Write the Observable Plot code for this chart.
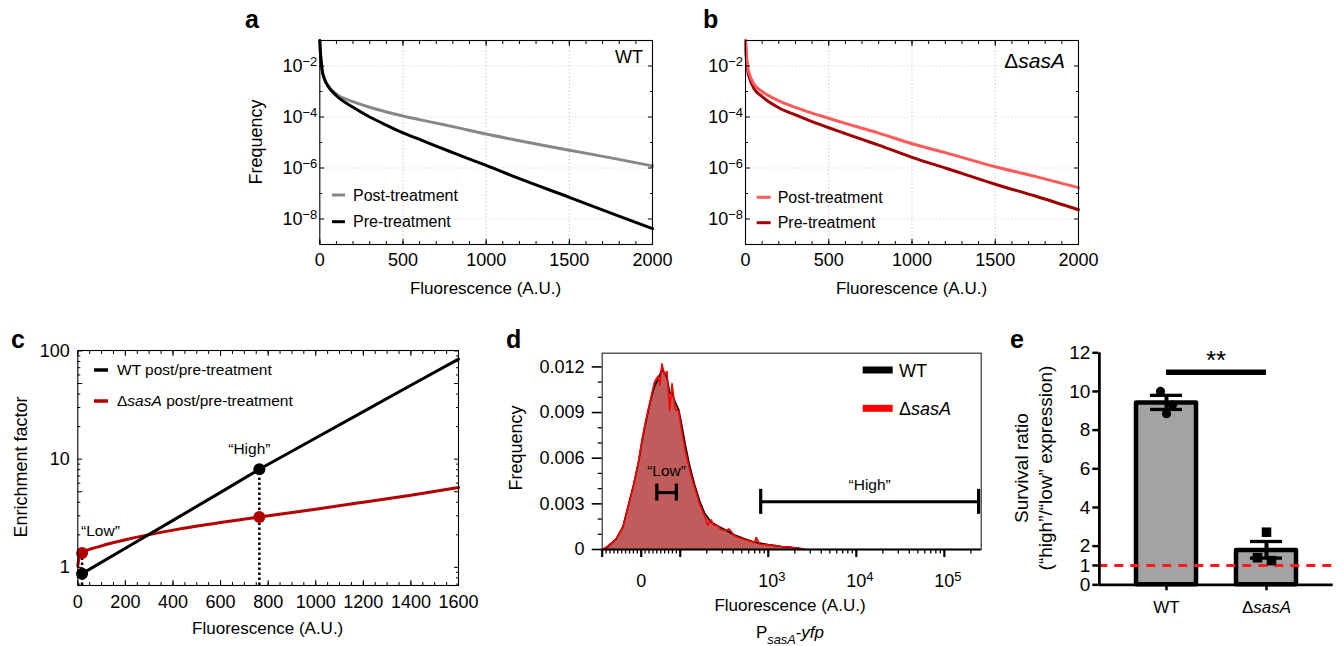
<!DOCTYPE html>
<html><head><meta charset="utf-8">
<script src="https://cdn.jsdelivr.net/npm/d3@7"></script>
<script src="https://cdn.jsdelivr.net/npm/@observablehq/plot@0.6"></script>
<style>
body{margin:0;background:#fff;}
#root{position:relative;width:1340px;height:646px;overflow:hidden;font-family:"Liberation Sans",Arial,Helvetica,sans-serif;}
</style></head><body><div id="root"></div>
<script>
// ================= DATA =================
// Panels a, b : frequency distributions vs fluorescence (A.U.)
const fluorAB = [0, 3, 8, 15, 25, 50, 100, 200, 300, 400, 500, 600, 700, 800, 1000, 1200, 1500, 1750, 2000];
const wtPost  = [1.0e-1, 4.0e-2, 1.6e-2, 6.3e-3, 3.5e-3, 1.66e-3, 7.9e-4, 4.0e-4, 2.4e-4, 1.58e-4, 1.1e-4, 7.9e-5, 5.75e-5, 4.2e-5, 2.14e-5, 1.17e-5, 5.0e-6, 2.5e-6, 1.2e-6];
const wtPre   = [1.0e-1, 4.0e-2, 1.6e-2, 6.3e-3, 3.5e-3, 1.6e-3, 6.8e-4, 2.4e-4, 1.0e-4, 4.8e-5, 2.4e-5, 1.32e-5, 7.2e-6, 4.0e-6, 1.26e-6, 3.8e-7, 7.1e-8, 1.7e-8, 4.2e-9];
const sasPost = [1.0e-1, 4.5e-2, 1.8e-2, 7.9e-3, 4.5e-3, 2.0e-3, 1.0e-3, 4.3e-4, 2.4e-4, 1.41e-4, 8.9e-5, 5.6e-5, 3.6e-5, 2.34e-5, 8.9e-6, 4.0e-6, 1.12e-6, 4.5e-7, 1.7e-7];
const sasPre  = [1.0e-1, 3.5e-2, 1.26e-2, 5.6e-3, 3.2e-3, 1.35e-3, 6.3e-4, 2.3e-4, 1.2e-4, 6.6e-5, 3.8e-5, 2.24e-5, 1.32e-5, 7.9e-6, 2.6e-6, 1.0e-6, 2.3e-7, 7.6e-8, 2.3e-8];
const ticksAB = [0, 500, 1000, 1500, 2000];
const decadesMajorAB = [1e-2, 1e-4, 1e-6, 1e-8];
const decadesMinorAB = [1e-3, 1e-5, 1e-7];

// Panel c : enrichment factor
const wtEnrichX  = [18, 200, 400, 600, 763, 1000, 1200, 1400, 1600];
const wtEnrichY  = [0.875, 1.50, 2.72, 4.93, 8.07, 15.7, 27.5, 48.2, 84];
const sasEnrichX = [0, 6, 18, 100, 200, 400, 600, 763, 1000, 1200, 1400, 1600];
const sasEnrichY = [1.03, 1.25, 1.36, 1.58, 1.8, 2.21, 2.6, 2.92, 3.45, 4.0, 4.65, 5.47];
const gateNames  = ["“Low”", "“High”"];
const gateX      = [18, 763];
const wtGateY    = [0.875, 8.07];
const sasGateY   = [1.36, 2.92];
const ticksCX = [0, 200, 400, 600, 800, 1000, 1200, 1400, 1600];
const ticksCY = [1, 5, 10, 50, 100];

// Panel d : P_sasA-yfp histograms
const histWtX  = [-98, -85, -64, -47, -34, -21, -8, 0, 8, 17, 26, 34, 43, 53, 60, 66, 73, 79, 87, 96, 104, 114, 128, 145, 166, 189, 225, 268, 333, 414, 537, 698, 992, 1407, 1990, 2580];
const histWtY  = [0, 0.0002, 0.0007, 0.0015, 0.0028, 0.0041, 0.0056, 0.0068, 0.0079, 0.0090, 0.0100, 0.0107, 0.0112, 0.0118, 0.0116, 0.0113, 0.0103, 0.0103, 0.0097, 0.0092, 0.0082, 0.0069, 0.0055, 0.0043, 0.0032, 0.0024, 0.0018, 0.00155, 0.00125, 0.00095, 0.0007, 0.00048, 0.00032, 0.0002, 0.00012, 0];
const histSasX = [-98, -85, -64, -47, -34, -21, -8, 0, 8, 17, 26, 34, 43, 48, 53, 60, 66, 73, 79, 87, 96, 104, 114, 128, 145, 166, 189, 205, 225, 240, 268, 290, 333, 360, 414, 460, 537, 600, 698, 730, 800, 992, 1200, 1407, 1700, 1990, 2300, 2580];
const histSasY = [0, 0.00024, 0.00068, 0.00144, 0.00276, 0.00407, 0.0056, 0.0069, 0.0080, 0.0091, 0.0101, 0.0110, 0.0114, 0.0108, 0.0122, 0.0115, 0.0117, 0.0091, 0.0109, 0.0092, 0.0091, 0.0078, 0.0065, 0.0052, 0.0041, 0.0030, 0.0022, 0.0016, 0.00195, 0.0016, 0.00156, 0.0013, 0.00125, 0.00135, 0.0009, 0.00078, 0.00066, 0.00058, 0.00046, 0.00079, 0.00035, 0.00031, 0.00026, 0.0002, 0.00018, 0.00012, 0.00008, 0];
const gateLo    = [40, 820];
const gateHi    = [90, 245000];
const gateLevel = [0.00374, 0.00313];
const ticksDY = [0, 0.003, 0.006, 0.009, 0.012];
const minorDY = [0.001, 0.002, 0.004, 0.005, 0.007, 0.008, 0.010, 0.011];
const labelTicksD = [0, 1000, 10000, 100000];
const labelTextD  = ["0", "10^3", "10^4", "10^5"];
const majorTicksD = [-100, 0, 100, 1000, 10000, 100000];

// Panel e : survival ratio
const strains = ["WT", "ΔsasA"];
const survivalMean = [9.4, 1.77];
const survivalLo   = [9.07, 1.38];
const survivalHi   = [9.8, 2.24];
const wtReplicates  = [10.0, 8.85, 9.3];
const sasReplicates = [2.72, 1.4, 1.25];
const sigLevel = 11;
const ticksEY = [0, 1, 2, 4, 6, 8, 10, 12];

// ================= HELPERS =================
const FONT = '"Liberation Sans", Arial, Helvetica, sans-serif';
const NS = "http://www.w3.org/2000/svg";
const root = document.getElementById("root");
const blank = () => "";
const plain = d => String(d);

function mk(opts, left, top) {
  const svg = Plot.plot({...opts, style: {background: "transparent", overflow: "visible", fontFamily: FONT, color: "black"}});
  svg.style.position = "absolute";
  svg.style.left = left + "px";
  svg.style.top = top + "px";
  root.appendChild(svg);
  return svg;
}
function richTicks(svg, shift = false) {
  svg.querySelectorAll("text").forEach(t => {
    const s = t.textContent;
    const m = s.match(/^10\^(.+)$/);
    if (m) {
      t.textContent = "10";
      const sup = document.createElementNS(NS, "tspan");
      sup.setAttribute("dy", "-0.48em");
      sup.setAttribute("font-size", "0.72em");
      sup.textContent = m[1];
      t.appendChild(sup);
      if (shift) t.setAttribute("dx", "0.2em");
    } else if (s === "ΔsasA") {
      t.textContent = "Δ";
      const it = document.createElementNS(NS, "tspan");
      it.setAttribute("font-style", "italic");
      it.textContent = "sasA";
      t.appendChild(it);
    }
  });
}
const supFmt = d => "10^−" + Math.round(-Math.log10(d));

// ================= PANELS a, b =================
function panelAB(post, pre, postColor, preColor, left, mL, mR, postOnTop) {
  const data = fluorAB.map((x, i) => ({x, post: post[i], pre: pre[i]}));
  const minor = d3.range(0, 2001, 100);
  const lPost = Plot.line(data, {x: "x", y: "post", stroke: postColor, strokeWidth: 3, curve: "monotone-x"});
  const lPre = Plot.line(data, {x: "x", y: "pre", stroke: preColor, strokeWidth: 3, curve: "monotone-x"});
  const svg = mk({
    width: 455, height: 310,
    marginLeft: mL, marginRight: mR, marginTop: 40, marginBottom: 66,
    x: {domain: [0, 2000], label: null},
    y: {type: "log", domain: [1e-9, 1e-1], label: null},
    marks: [
      Plot.ruleX(ticksAB.slice(1, -1), {stroke: "#bdbdbd", strokeWidth: 1, strokeDasharray: "1.2,2.4"}),
      Plot.ruleY(decadesMajorAB, {stroke: "#dadada", strokeWidth: 1, strokeDasharray: "1.2,2.4"}),
      ...(postOnTop ? [lPre, lPost] : [lPost, lPre]),
      Plot.frame({stroke: "black", strokeWidth: 1.1}),
      Plot.axisX({anchor: "bottom", ticks: ticksAB, tickSize: 0, tickPadding: 9, fontSize: 18, tickFormat: plain, label: null}),
      Plot.axisX({anchor: "bottom", ticks: ticksAB, tickSize: 5, dy: -5, tickFormat: blank, label: null}),
      Plot.axisX({anchor: "bottom", ticks: minor, tickSize: 3, dy: -3, tickFormat: blank, label: null}),
      Plot.axisX({anchor: "top", ticks: ticksAB, tickSize: 5, dy: 5, tickFormat: blank, label: null}),
      Plot.axisX({anchor: "top", ticks: minor, tickSize: 3, dy: 3, tickFormat: blank, label: null}),
      Plot.axisY({anchor: "left", ticks: decadesMajorAB, tickSize: 0, tickPadding: 2.5, fontSize: 18, tickFormat: supFmt, label: null}),
      Plot.axisY({anchor: "left", ticks: decadesMajorAB, tickSize: 5, dx: 5, tickFormat: blank, label: null}),
      Plot.axisY({anchor: "left", ticks: decadesMinorAB, tickSize: 3, dx: 3, tickFormat: blank, label: null}),
      Plot.axisY({anchor: "right", ticks: decadesMajorAB, tickSize: 5, dx: -5, tickFormat: blank, label: null}),
      Plot.axisY({anchor: "right", ticks: decadesMinorAB, tickSize: 3, dx: -3, tickFormat: blank, label: null})
    ]
  }, left, 0);
  richTicks(svg);
}
panelAB(wtPost, wtPre, "#878787", "#000000", 225, 94.3, 28, false);
panelAB(sasPost, sasPre, "#ff5a5a", "#a10000", 680, 65, 57, true);

// ================= PANEL c =================
{
  const wt = wtEnrichX.map((x, i) => ({x, y: wtEnrichY[i]}));
  const sas = sasEnrichX.map((x, i) => ({x, y: sasEnrichY[i]}));
  const gates = gateNames.map((name, i) => ({name, x: gateX[i], wt: wtGateY[i], sas: sasGateY[i]}));
  const yMin = 0.68;
  const minorX = d3.range(0, 1601, 50);
  const minorY = [0.7, 0.8, 0.9, 2, 3, 4, 6, 7, 8, 9, 20, 30, 40, 60, 70, 80, 90];
  const RED = "#b30000";
  mk({
    width: 470, height: 326,
    marginLeft: 77.3, marginRight: 12, marginTop: 30, marginBottom: 61,
    x: {domain: [0, 1600], label: null},
    y: {type: "log", domain: [yMin, 101], label: null},
    marks: [
      Plot.ruleX(gates, {x: "x", y1: () => yMin, y2: d => Math.max(d.wt, d.sas), stroke: "black", strokeWidth: 2.5, strokeDasharray: "2.5,2.5"}),
      Plot.line(sas, {x: "x", y: "y", stroke: RED, strokeWidth: 3, curve: "monotone-x"}),
      Plot.line(wt, {x: "x", y: "y", stroke: "black", strokeWidth: 3}),
      Plot.dot(gates, {x: "x", y: "sas", r: 6, fill: RED}),
      Plot.dot(gates, {x: "x", y: "wt", r: 6, fill: "black"}),
      Plot.text(gates.slice(0, 1), {x: "x", y: "sas", text: "name", textAnchor: "start", dx: -1, dy: -22, fontSize: 15.5}),
      Plot.text(gates.slice(1), {x: "x", y: "wt", text: "name", dx: -10, dy: -20, fontSize: 15.5}),
      Plot.frame({stroke: "black", strokeWidth: 1.1}),
      Plot.axisX({anchor: "bottom", ticks: ticksCX, tickSize: 0, tickPadding: 10, fontSize: 18, tickFormat: plain, label: null}),
      Plot.axisX({anchor: "bottom", ticks: ticksCX, tickSize: 5, dy: -5, tickFormat: blank, label: null}),
      Plot.axisX({anchor: "bottom", ticks: minorX, tickSize: 3, dy: -3, tickFormat: blank, label: null}),
      Plot.axisX({anchor: "top", ticks: ticksCX, tickSize: 5, dy: 5, tickFormat: blank, label: null}),
      Plot.axisX({anchor: "top", ticks: minorX, tickSize: 3, dy: 3, tickFormat: blank, label: null}),
      Plot.axisY({anchor: "left", ticks: ticksCY, tickSize: 0, tickPadding: 8, fontSize: 18, tickFormat: plain, label: null}),
      Plot.axisY({anchor: "left", ticks: ticksCY, tickSize: 5, dx: 5, tickFormat: blank, label: null}),
      Plot.axisY({anchor: "left", ticks: minorY, tickSize: 3, dx: 3, tickFormat: blank, label: null}),
      Plot.axisY({anchor: "right", ticks: ticksCY, tickSize: 5, dx: -5, tickFormat: blank, label: null}),
      Plot.axisY({anchor: "right", ticks: minorY, tickSize: 3, dx: -3, tickFormat: blank, label: null})
    ]
  }, 0, 320);
}

// ================= PANEL d =================
{
  // logicle-like display transform: linear within ±100, logarithmic beyond
  const LIN = 100, LINW = 39 / 88;
  const T = v => Math.abs(v) <= LIN ? v / LIN * LINW : Math.sign(v) * (LINW + Math.log10(Math.abs(v) / LIN));
  const wt = histWtX.map((x, i) => ({x, y: histWtY[i]}));
  const sas = histSasX.map((x, i) => ({x, y: histSasY[i]}));
  const gates = gateNames.map((name, i) => ({name, lo: gateLo[i], hi: gateHi[i], y: gateLevel[i]}));
  const caps = gates.flatMap((g, i) => [{x: g.lo, y: g.y, i}, {x: g.hi, y: g.y, i}]);
  const capHalf = [8.5, 12.5];
  const minorX = [];
  for (let k = 10; k < 100; k += 10) minorX.push(-k, k);
  for (const dec of [100, 1000, 10000]) for (let m = 2; m <= 9; m++) minorX.push(m * dec);
  minorX.push(200000);
  const labMap = new Map(labelTicksD.map((v, i) => [T(v), labelTextD[i]]));
  const FILL = "#c05c5c";
  const svg = mk({
    width: 520, height: 326,
    marginLeft: 121.7, marginRight: 19.3, marginTop: 32.7, marginBottom: 97,
    x: {domain: [T(-100), T(262144)], label: null},
    y: {domain: [0, 0.0129], label: null},
    marks: [
      Plot.areaY(wt, {x: d => T(d.x), y: "y", fill: FILL}),
      Plot.areaY(sas, {x: d => T(d.x), y: "y", fill: FILL}),
      Plot.lineY(wt, {x: d => T(d.x), y: "y", stroke: "black", strokeWidth: 1.6}),
      Plot.lineY(sas, {x: d => T(d.x), y: "y", stroke: "#ff0000", strokeWidth: 1.6}),
      Plot.ruleY(gates, {x1: d => T(d.lo), x2: d => T(d.hi), y: "y", stroke: "black", strokeWidth: 3}),
      ...[0, 1].map(i => Plot.ruleX(caps.filter(c => c.i === i), {x: d => T(d.x), y1: "y", y2: "y", insetTop: -capHalf[i], insetBottom: -capHalf[i], stroke: "black", strokeWidth: 3.2})),
      Plot.text(gates.slice(0, 1), {x: d => (T(d.lo) + T(d.hi)) / 2, y: "y", text: "name", dy: -22, fontSize: 15.5}),
      Plot.text(gates.slice(1), {x: d => (T(d.lo) + T(d.hi)) / 2, y: "y", text: "name", dy: -17, fontSize: 15.5}),
      Plot.frame({stroke: "#333", strokeWidth: 1.2}),
      Plot.ruleY([0], {stroke: "black", strokeWidth: 2}),
      Plot.axisY({anchor: "left", ticks: ticksDY, tickSize: 0, tickPadding: 17.7, fontSize: 18, tickFormat: d => d === 0 ? "0" : d.toFixed(3), label: null}),
      Plot.axisY({anchor: "left", ticks: ticksDY, tickSize: 10, tickFormat: blank, strokeWidth: 1.6, label: null}),
      Plot.axisY({anchor: "left", ticks: minorDY, tickSize: 4, tickFormat: blank, strokeWidth: 1.3, label: null}),
      Plot.axisX({anchor: "bottom", ticks: labelTicksD.map(T), tickSize: 0, tickPadding: 25, fontSize: 18, tickFormat: d => labMap.get(d), label: null}),
      Plot.axisX({anchor: "bottom", ticks: majorTicksD.map(T), tickSize: 8, tickFormat: blank, strokeWidth: 2.2, label: null}),
      Plot.axisX({anchor: "bottom", ticks: minorX.map(T), tickSize: 4.5, tickFormat: blank, strokeWidth: 1.3, label: null})
    ]
  }, 480, 320);
  richTicks(svg, true);
}

// ================= PANEL e =================
{
  const rows = strains.map((s, i) => ({s, m: survivalMean[i], lo: survivalLo[i], hi: survivalHi[i]}));
  const reps = [
    ...wtReplicates.map((v, i) => ({s: strains[0], v, i})),
    ...sasReplicates.map((v, i) => ({s: strains[1], v, i}))
  ];
  const jitter = {[strains[0]]: [-6, 0, 6], [strains[1]]: [0, -9, 5]};
  const symbolOf = {[strains[0]]: "circle", [strains[1]]: "square"};
  const dotMarks = [];
  for (const s of strains) for (let i = 0; i < 3; i++) {
    dotMarks.push(Plot.dot(reps.filter(d => d.s === s && d.i === i), {x: "s", y: "v", dx: jitter[s][i], r: s === strains[0] ? 4.6 : 5.4, symbol: symbolOf[s], fill: "black"}));
  }
  // distance from first band centre to the left edge of the frame (band layout below)
  const step = (342.7 - 108.3) / (2 - 0.4 + 2 * 0.37);
  const toAxis = -(0.37 * step + (1 - 0.4) * step / 2);
  const svg = mk({
    width: 350, height: 326,
    marginLeft: 108.3, marginRight: 7.3, marginTop: 32.3, marginBottom: 61.7,
    x: {domain: strains, paddingInner: 0.4, paddingOuter: 0.37, label: null},
    y: {domain: [0, 12], label: null},
    marks: [
      Plot.barY(rows, {x: "s", y: "m", fill: "#a3a3a3", stroke: "black", strokeWidth: 4.5, strokeLinejoin: "round"}),
      Plot.ruleY([1], {stroke: "#ff1a1a", strokeWidth: 3, strokeDasharray: "9,7"}),
      Plot.ruleX(rows, {x: "s", y1: "lo", y2: "hi", stroke: "black", strokeWidth: 4}),
      Plot.ruleY(rows, {x1: "s", x2: "s", y: "hi", insetLeft: 14, insetRight: 14, stroke: "black", strokeWidth: 3.3}),
      Plot.ruleY(rows, {x1: "s", x2: "s", y: "lo", insetLeft: 14, insetRight: 14, stroke: "black", strokeWidth: 3.3}),
      ...dotMarks,
      Plot.ruleY([sigLevel], {x1: () => strains[0], x2: () => strains[1], insetLeft: 30, insetRight: 30, stroke: "black", strokeWidth: 5.5}),
      Plot.text([sigLevel], {y: d => d, text: () => "**", fontSize: 26, dy: -11}),
      Plot.ruleY([0], {stroke: "black", strokeWidth: 2.8}),
      Plot.ruleX([strains[0]], {x: d => d, y1: () => 0, y2: () => 12, dx: toAxis, stroke: "black", strokeWidth: 2.8}),
      Plot.axisY({ticks: ticksEY, tickSize: 6, tickPadding: 2.5, fontSize: 19, strokeWidth: 2.5, tickFormat: plain, label: null}),
      Plot.axisX({tickSize: 6, tickPadding: 10, fontSize: 17, strokeWidth: 2.5, label: null})
    ]
  }, 990, 320);
  richTicks(svg);
}

// ================= TITLES, LETTERS, LEGENDS =================
const ov = d3.create("svg").attr("width", 1340).attr("height", 646)
  .style("position", "absolute").style("left", "0px").style("top", "0px")
  .style("font-family", FONT).style("overflow", "visible");
function label(x, y, parts, o = {}) {
  const t = ov.append("text").attr("x", x).attr("y", y).attr("font-size", o.size || 17)
    .attr("text-anchor", o.anchor || "start").attr("fill", "black");
  if (o.weight) t.attr("font-weight", o.weight);
  if (o.rotate) t.attr("transform", `rotate(${o.rotate},${x},${y})`);
  if (o.dy) t.attr("dy", o.dy);
  (typeof parts === "string" ? [[parts]] : parts).forEach(([s, st]) => {
    const ts = t.append("tspan").text(s);
    if (st === "i") ts.attr("font-style", "italic");
    if (st === "sub") ts.attr("font-style", "italic").attr("font-size", "0.75em").attr("dy", 6);
    if (st === "back") ts.attr("dy", -6);
  });
  return t;
}
function swatchLine(x1, x2, y, color, w = 3) {
  ov.append("line").attr("x1", x1).attr("x2", x2).attr("y1", y).attr("y2", y).attr("stroke", color).attr("stroke-width", w);
}
// panel letters
[["a", 245, 28], ["b", 703, 28], ["c", 11, 348], ["d", 506, 348], ["e", 1010, 348]]
  .forEach(([s, x, y]) => label(x, y, s, {size: 25, weight: "bold"}));
// panel a
label(255.5, 142, "Frequency", {size: 18, anchor: "middle", rotate: -90, dy: "0.35em"});
label(485.5, 294, "Fluorescence (A.U.)", {anchor: "middle"});
label(643, 63, "WT", {size: 18, anchor: "end"});
swatchLine(332, 345, 195, "#878787"); label(353, 200.6, "Post-treatment", {size: 16});
swatchLine(332, 345, 221.7, "#000000"); label(353, 227.3, "Pre-treatment", {size: 16});
// panel b
label(911.5, 294, "Fluorescence (A.U.)", {anchor: "middle"});
label(1065, 68, [["Δ"], ["sasA", "i"]], {size: 21, anchor: "end"});
swatchLine(756.7, 770.7, 197.3, "#ff5a5a"); label(777.7, 202.9, "Post-treatment", {size: 16});
swatchLine(756.7, 770.7, 222.7, "#a10000"); label(777.7, 228.3, "Pre-treatment", {size: 16});
// panel c
label(21, 467, "Enrichment factor", {size: 18, anchor: "middle", rotate: -90, dy: "0.35em"});
label(267.7, 634, "Fluorescence (A.U.)", {anchor: "middle"});
swatchLine(94, 108, 370, "#000000", 3.5); label(117, 375.4, "WT post/pre-treatment", {size: 15.5});
swatchLine(94, 108, 401, "#b30000", 3.5); label(117, 406.4, [["Δ"], ["sasA", "i"], [" post/pre-treatment"]], {size: 15.5});
// panel d
label(515.5, 448, "Frequency", {size: 18, anchor: "middle", rotate: -90, dy: "0.35em"});
label(790, 611, "Fluorescence (A.U.)", {anchor: "middle"});
label(790, 638, [["P"], ["sasA", "sub"], ["-", "back"], ["yfp", "i"]], {anchor: "middle"});
ov.append("rect").attr("x", 862.7).attr("y", 366.5).attr("width", 30).attr("height", 7).attr("fill", "black");
label(899, 376.7, "WT", {size: 18});
ov.append("rect").attr("x", 862.7).attr("y", 404.8).attr("width", 30).attr("height", 7).attr("fill", "#ff0000");
label(899, 415, [["Δ"], ["sasA", "i"]], {size: 18});
// panel e
label(1021.7, 468, "Survival ratio", {size: 19, anchor: "middle", rotate: -90, dy: "0.35em"});
label(1045, 468, "(“high”/“low” expression)", {size: 19, anchor: "middle", rotate: -90, dy: "0.35em"});
root.appendChild(ov.node());
</script></body></html>
